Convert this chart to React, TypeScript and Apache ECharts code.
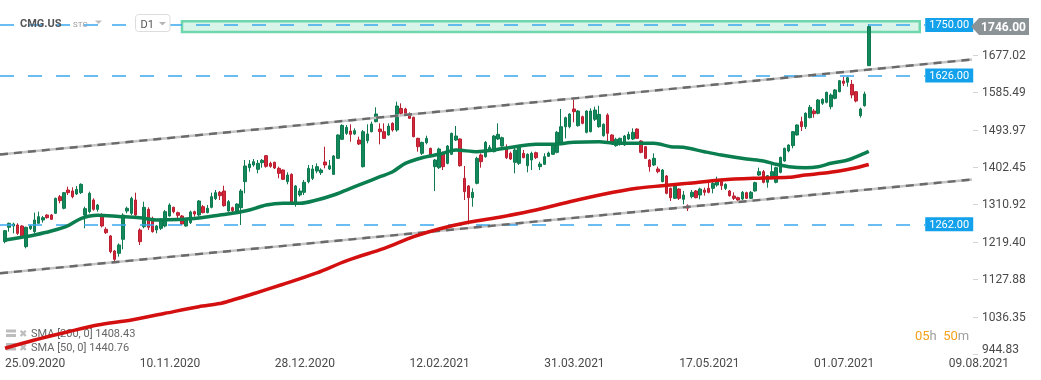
import React, { useEffect, useRef } from "react";
import * as echarts from "echarts";

// ---------- data ----------
const dateLabels = ["25.09.2020", "10.11.2020", "28.12.2020", "12.02.2021", "31.03.2021", "17.05.2021", "01.07.2021", "09.08.2021"];
const dateTickIdx = [0, 32, 64, 96, 128, 160, 192, 224];
const priceTicks = [944.83, 1036.35, 1127.88, 1219.4, 1310.92, 1402.45, 1493.97, 1585.49, 1677.02];
const xRange = [-1.19, 229.5];
const yRange = [944.83, 1811.0];

// [open, close, low, high] per trading day
const candles: number[][] = [
  [1219.7, 1246.6, 1215.6, 1248.3], [1254.8, 1264.6, 1244.2, 1266.2], [1258.0, 1262.9, 1240.1, 1266.2], [1260.5, 1240.1, 1236.0, 1264.6],
  [1258.0, 1230.3, 1227.9, 1260.5], [1207.5, 1254.8, 1203.4, 1256.4], [1251.5, 1258.0, 1248.3, 1260.5], [1244.2, 1272.7, 1240.1, 1290.7],
  [1264.6, 1280.9, 1262.9, 1293.1], [1272.7, 1278.4, 1266.2, 1282.5], [1284.9, 1278.4, 1276.0, 1286.6], [1284.9, 1274.4, 1272.7, 1287.4],
  [1289.0, 1325.7, 1287.4, 1327.4], [1329.8, 1320.0, 1313.5, 1333.9], [1301.3, 1339.6, 1298.8, 1341.2], [1346.1, 1339.6, 1333.9, 1354.3],
  [1343.7, 1329.8, 1325.7, 1352.7], [1336.3, 1347.8, 1333.9, 1355.9], [1339.6, 1360.0, 1336.3, 1362.4], [1284.9, 1300.5, 1252.3, 1305.3],
  [1293.1, 1338.0, 1289.0, 1342.1], [1321.7, 1298.8, 1295.6, 1325.7], [1298.8, 1309.4, 1293.1, 1311.9], [1285.0, 1258.0, 1254.8, 1289.0],
  [1249.9, 1241.7, 1238.5, 1254.8], [1233.6, 1195.2, 1191.2, 1236.0], [1196.9, 1176.5, 1170.8, 1199.3], [1191.2, 1211.6, 1183.0, 1215.6],
  [1225.4, 1284.9, 1201.0, 1289.0], [1294.7, 1301.3, 1289.0, 1305.3], [1289.0, 1325.7, 1284.9, 1329.8], [1321.7, 1284.9, 1280.9, 1339.6],
  [1248.3, 1219.7, 1211.6, 1252.3], [1256.4, 1303.7, 1252.3, 1317.6], [1298.8, 1254.8, 1248.3, 1303.7], [1276.8, 1244.2, 1241.7, 1280.9],
  [1248.3, 1258.0, 1240.1, 1260.5], [1252.3, 1272.7, 1248.3, 1276.8], [1258.0, 1293.1, 1254.8, 1297.2], [1282.5, 1309.4, 1280.9, 1313.5],
  [1303.7, 1293.1, 1289.0, 1305.3], [1290.7, 1284.1, 1276.8, 1293.1], [1282.5, 1262.9, 1260.5, 1284.9], [1258.0, 1274.4, 1256.4, 1276.8],
  [1266.2, 1292.3, 1262.9, 1295.6], [1293.1, 1287.4, 1280.9, 1295.6], [1284.9, 1319.2, 1280.9, 1321.7], [1305.3, 1290.7, 1289.0, 1309.4],
  [1290.7, 1301.3, 1289.0, 1309.4], [1303.7, 1329.8, 1301.3, 1339.6], [1324.9, 1339.6, 1321.7, 1346.1], [1340.4, 1332.2, 1321.6, 1343.6],
  [1343.6, 1307.8, 1305.3, 1356.7], [1294.7, 1317.5, 1293.1, 1321.6], [1302.9, 1295.5, 1291.4, 1305.3], [1294.7, 1311.8, 1293.1, 1313.5],
  [1302.9, 1343.6, 1260.4, 1348.5], [1366.5, 1404.8, 1337.9, 1419.5], [1400.7, 1409.7, 1390.9, 1419.5], [1407.3, 1415.4, 1403.2, 1421.9],
  [1396.7, 1411.3, 1386.9, 1419.5], [1413.0, 1418.7, 1400.7, 1421.9], [1430.1, 1404.0, 1400.7, 1431.7], [1411.3, 1404.0, 1400.7, 1415.4],
  [1413.8, 1399.9, 1397.5, 1415.4], [1399.1, 1386.9, 1374.6, 1403.2], [1395.0, 1372.2, 1370.6, 1396.6], [1366.5, 1382.8, 1360.0, 1389.3],
  [1384.4, 1313.5, 1311.0, 1386.9], [1313.5, 1355.9, 1305.3, 1358.3], [1333.9, 1343.6, 1329.8, 1350.2], [1340.4, 1364.8, 1333.9, 1370.6],
  [1366.5, 1399.1, 1362.4, 1407.3], [1374.6, 1397.5, 1370.6, 1407.3], [1392.6, 1403.2, 1386.9, 1411.3], [1388.5, 1395.0, 1382.8, 1399.1],
  [1414.6, 1407.3, 1399.1, 1452.1], [1397.5, 1405.6, 1395.0, 1419.5], [1384.4, 1429.3, 1382.8, 1431.7], [1423.6, 1480.7, 1421.9, 1482.3],
  [1470.1, 1504.3, 1468.4, 1506.8], [1484.7, 1499.4, 1480.7, 1505.1], [1490.4, 1482.3, 1464.3, 1506.8], [1483.1, 1491.3, 1480.7, 1497.0],
  [1468.4, 1458.6, 1456.2, 1476.6], [1403.2, 1488.8, 1401.0, 1492.9], [1466.8, 1483.1, 1460.3, 1506.8], [1488.8, 1507.6, 1487.2, 1513.3],
  [1513.3, 1532.0, 1511.7, 1548.4], [1495.3, 1488.8, 1457.8, 1509.2], [1488.8, 1472.5, 1470.9, 1509.2], [1480.7, 1502.7, 1479.0, 1509.2],
  [1509.2, 1492.9, 1488.8, 1511.7], [1492.9, 1551.6, 1488.8, 1562.2], [1545.9, 1533.7, 1529.6, 1558.1], [1544.3, 1533.7, 1531.2, 1547.5],
  [1531.2, 1521.4, 1519.8, 1536.1], [1523.9, 1476.6, 1475.0, 1525.5], [1472.5, 1452.1, 1439.9, 1474.1], [1435.8, 1462.7, 1431.7, 1464.3],
  [1461.9, 1472.5, 1457.8, 1479.0], [1448.0, 1431.7, 1427.6, 1449.7], [1403.2, 1419.5, 1343.6, 1421.9], [1400.7, 1446.4, 1397.5, 1449.7],
  [1435.8, 1403.2, 1395.0, 1439.9], [1411.3, 1453.7, 1408.9, 1456.2], [1433.4, 1484.7, 1431.7, 1486.4], [1468.4, 1478.2, 1466.0, 1502.7],
  [1470.9, 1405.6, 1403.2, 1472.5], [1374.6, 1342.0, 1321.6, 1404.8], [1355.9, 1327.3, 1262.1, 1358.3], [1327.3, 1340.4, 1305.3, 1350.2],
  [1362.4, 1423.6, 1360.0, 1427.6], [1431.7, 1415.4, 1400.7, 1435.8], [1427.6, 1462.7, 1425.2, 1466.0], [1444.0, 1450.5, 1439.9, 1456.2],
  [1439.9, 1478.2, 1438.2, 1480.7], [1470.9, 1482.3, 1468.4, 1509.2], [1453.7, 1474.1, 1452.1, 1476.6], [1446.4, 1425.2, 1421.9, 1457.8],
  [1435.8, 1421.9, 1419.5, 1439.9], [1413.8, 1444.0, 1386.9, 1452.1], [1411.3, 1451.3, 1407.3, 1456.2], [1435.8, 1425.2, 1423.6, 1444.0],
  [1405.6, 1433.4, 1389.3, 1435.8], [1419.5, 1435.8, 1395.0, 1439.9], [1437.4, 1425.2, 1421.9, 1439.9], [1403.2, 1409.7, 1395.0, 1415.4],
  [1408.9, 1427.6, 1407.3, 1435.8], [1428.5, 1436.6, 1426.8, 1439.9], [1433.4, 1456.2, 1431.7, 1460.3], [1438.2, 1487.2, 1435.8, 1490.4],
  [1460.3, 1501.0, 1456.2, 1544.3], [1501.0, 1523.1, 1472.5, 1525.5], [1501.0, 1532.0, 1497.0, 1533.7], [1544.3, 1537.8, 1511.7, 1572.8],
  [1503.5, 1539.4, 1501.0, 1541.8], [1525.5, 1509.2, 1506.8, 1528.0], [1487.2, 1539.4, 1484.7, 1541.0], [1488.8, 1539.4, 1487.2, 1545.9],
  [1519.0, 1541.8, 1514.9, 1550.0], [1501.0, 1531.2, 1498.6, 1552.4], [1479.0, 1506.8, 1476.6, 1509.2], [1529.6, 1484.7, 1464.3, 1533.7],
  [1480.7, 1464.3, 1462.7, 1482.3], [1454.6, 1470.1, 1452.1, 1474.1], [1462.7, 1472.5, 1454.6, 1474.1], [1456.2, 1478.2, 1453.7, 1480.7],
  [1470.9, 1482.3, 1468.4, 1488.8], [1470.9, 1487.2, 1468.4, 1497.0], [1495.3, 1472.5, 1470.9, 1497.0], [1466.0, 1438.2, 1435.8, 1467.6],
  [1452.1, 1423.6, 1421.9, 1453.7], [1419.5, 1403.2, 1390.9, 1421.9], [1407.3, 1423.6, 1404.8, 1435.8], [1397.5, 1391.0, 1386.9, 1403.2],
  [1366.5, 1395.0, 1364.9, 1397.5], [1380.4, 1338.0, 1335.5, 1382.8], [1350.2, 1327.3, 1319.2, 1351.8], [1325.7, 1356.7, 1324.1, 1358.3],
  [1348.5, 1325.7, 1321.6, 1350.2], [1323.3, 1333.9, 1311.0, 1343.7], [1307.8, 1301.3, 1294.7, 1311.0], [1329.8, 1340.4, 1325.7, 1346.1],
  [1343.7, 1327.3, 1325.7, 1346.1], [1333.9, 1348.5, 1323.3, 1351.8], [1346.1, 1340.4, 1332.2, 1351.8], [1350.2, 1340.4, 1338.0, 1370.6],
  [1350.2, 1362.4, 1338.0, 1366.5], [1358.3, 1366.5, 1354.3, 1378.7], [1366.5, 1356.7, 1346.1, 1374.7], [1350.2, 1360.0, 1346.1, 1362.4],
  [1343.7, 1332.2, 1329.8, 1346.1], [1331.4, 1325.7, 1321.6, 1340.4], [1327.3, 1321.6, 1317.6, 1329.8], [1324.1, 1340.4, 1321.6, 1343.7],
  [1339.6, 1325.7, 1324.1, 1342.0], [1325.7, 1340.4, 1324.1, 1343.7], [1343.7, 1364.1, 1342.0, 1366.5], [1382.8, 1391.0, 1380.4, 1400.8],
  [1391.0, 1364.9, 1362.4, 1395.0], [1364.9, 1381.2, 1351.8, 1382.8], [1374.7, 1391.0, 1372.2, 1411.4], [1364.9, 1400.8, 1362.4, 1403.2],
  [1389.3, 1426.0, 1386.9, 1427.7], [1417.1, 1448.1, 1415.4, 1449.7], [1441.5, 1456.2, 1438.3, 1457.8], [1454.6, 1488.8, 1448.1, 1490.5],
  [1480.7, 1505.2, 1479.1, 1506.8], [1513.3, 1501.1, 1490.5, 1525.5], [1501.1, 1533.7, 1495.4, 1536.2], [1523.1, 1548.4, 1521.5, 1554.1],
  [1539.4, 1532.9, 1523.1, 1544.3], [1533.7, 1566.3, 1531.3, 1568.8], [1558.2, 1568.0, 1554.1, 1570.4], [1560.6, 1585.1, 1558.2, 1586.7],
  [1550.0, 1578.6, 1543.5, 1582.6], [1570.4, 1590.8, 1568.0, 1593.2], [1586.7, 1613.6, 1585.1, 1615.3], [1612.8, 1607.1, 1600.6, 1623.4],
  [1609.6, 1621.0, 1599.0, 1623.4], [1604.7, 1578.6, 1570.4, 1615.3], [1586.7, 1563.9, 1560.6, 1588.3], [1528.0, 1544.3, 1523.1, 1547.6],
  [1552.5, 1581.0, 1550.0, 1586.7], [1650.3, 1746.0, 1650.3, 1751.5],
];

// SMA readings [bar index, value]
const sma50: number[][] = [
  [0, 1223.8], [4, 1230.4], [7, 1236.0], [11, 1245.8], [15, 1259.2], [18, 1276.3], [22, 1284.2], [27, 1281.3],
  [32, 1278.1], [36, 1272.7], [41, 1273.9], [46, 1277.6], [51, 1284.9], [54, 1289.1], [58, 1297.2], [62, 1309.4],
  [66, 1313.6], [70, 1313.6], [74, 1321.6], [78, 1333.9], [81, 1346.1], [85, 1362.5], [89, 1378.6], [92, 1390.8],
  [95, 1411.4], [99, 1425.1], [103, 1433.4], [107, 1443.9], [112, 1439.8], [116, 1443.9], [121, 1452.0], [126, 1457.9],
  [130, 1457.9], [135, 1462.8], [141, 1464.3], [145, 1460.3], [150, 1460.3], [154, 1460.3], [158, 1452.0], [161, 1450.6],
  [166, 1439.8], [170, 1431.7], [176, 1421.9], [180, 1417.0], [183, 1409.0], [186, 1403.1], [190, 1400.6], [193, 1403.1],
  [196, 1411.4], [200, 1419.5], [203, 1431.7], [205, 1440.76],
];
const sma200: number[][] = [
  [0, 958.8], [7, 979.1], [15, 999.4], [22, 1015.8], [30, 1028.0], [38, 1044.4], [46, 1060.6], [51, 1068.2],
  [54, 1076.9], [58, 1089.2], [66, 1115.4], [74, 1143.3], [81, 1172.8], [90, 1203.5], [97, 1231.9], [103, 1250.7],
  [110, 1267.1], [118, 1280.8], [126, 1297.2], [134, 1317.5], [142, 1335.6], [150, 1350.3], [156, 1356.6], [162, 1362.5],
  [170, 1370.6], [178, 1374.7], [186, 1377.2], [190, 1382.8], [194, 1387.0], [198, 1392.6], [202, 1400.6], [205, 1408.43],
];

const channelUpper = [[-1.19, 1432.9], [229.5, 1665.4]];
const channelLower = [[-1.19, 1142.5], [229.5, 1371.8]];
const levelValues = [1750, 1626, 1262];
const levelLineEnd = 218.4;
const zoneX = [42.0, 217.1];
const zoneY = [1759.1, 1732.7];

const FONT = "Roboto, 'Noto Sans', sans-serif";
const UP = "#13885a";
const DOWN = "#d6263a";
const BLUE = "#3aa8ee";
const BLUE_BOX = "#12a1ea";

export default function App() {
  const ref = useRef<HTMLDivElement>(null);
  useEffect(() => {
    const chart = echarts.init(ref.current!, null, { renderer: "svg" });
    const candleData = candles.map((c, i) => [i, c[0], c[1], c[2], c[3]]);

    const channelSeries = (data: number[][]) => [
      {
        type: "line", data, symbol: "none", silent: true, z: 4,
        lineStyle: { color: "#c4c4c4", width: 2.4 },
      },
      {
        type: "line", data, symbol: "none", silent: true, z: 5,
        lineStyle: { color: "#6a6a6a", width: 2.4, type: [8, 6] },
      },
    ];

    const option: any = {
      animation: false,
      textStyle: { fontFamily: FONT },
      grid: { left: 0, right: 69, top: 0, bottom: 26, containLabel: false, outerBoundsMode: "none" },
      xAxis: {
        type: "value",
        min: xRange[0],
        max: xRange[1],
        axisLine: { show: false },
        splitLine: { show: false },
        axisTick: { show: false },
        axisLabel: {
          customValues: dateTickIdx,
          formatter: (v: number) => dateLabels[dateTickIdx.indexOf(Math.round(v))] ?? "",
          align: "left",
          margin: 3,
          color: "#4a4a4a",
          fontSize: 12,
          fontFamily: FONT,
        },
      },
      yAxis: {
        type: "value",
        position: "right",
        min: yRange[0],
        max: yRange[1],
        axisLine: { show: false },
        splitLine: { show: false },
        axisTick: { show: false },
        axisLabel: {
          customValues: priceTicks,
          formatter: (v: number) => (v === priceTicks[0] ? `{low|${v.toFixed(2)}}` : v.toFixed(2)),
          rich: { low: { padding: [0, 0, 10, 0], fontSize: 12, color: "#4a4a4a", fontFamily: FONT } },
          margin: 10,
          color: "#4a4a4a",
          fontSize: 12,
          fontFamily: FONT,
        },
      },
      series: [
        {
          type: "line",
          data: [[xRange[0], levelValues[2]]],
          symbol: "none",
          silent: true,
          z: 1,
          markArea: {
            silent: true,
            itemStyle: { color: "rgba(120,215,175,0.28)", borderColor: "#6fd7ae", borderWidth: 2.5 },
            data: [[{ coord: [zoneX[0], zoneY[0]] }, { coord: [zoneX[1], zoneY[1]] }]],
          },
          markLine: {
            silent: true,
            symbol: ["none", "none"],
            lineStyle: { color: BLUE, width: 1.5, type: [14, 14] },
            label: {
              position: "end",
              distance: 0,
              formatter: (p: any) => Number(p.value).toFixed(2),
              backgroundColor: BLUE_BOX,
              color: "#ffffff",
              fontSize: 11,
              lineHeight: 12,
              padding: [1, 4, 1, 4],
              fontFamily: FONT,
            },
            data: levelValues.map((v) => [
              { coord: [xRange[0], v], value: v },
              { coord: [levelLineEnd, v], value: v },
            ]),
          },
        },
        {
          type: "candlestick",
          data: candleData,
          barWidth: 3,
          z: 3,
          itemStyle: {
            color: UP,
            color0: DOWN,
            borderColor: "#0f7a4f",
            borderColor0: "#b81f31",
            borderWidth: 1,
          },
        },
        ...channelSeries(channelLower),
        ...channelSeries(channelUpper),
        {
          type: "line", data: sma200, symbol: "none", smooth: 0.3, silent: true, z: 6,
          lineStyle: { color: "#d40f0f", width: 3.5 },
        },
        {
          type: "line", data: sma50, symbol: "none", smooth: 0.3, silent: true, z: 6,
          lineStyle: { color: "#0b7e4f", width: 3.5 },
        },
      ],
    };
    chart.setOption(option);

    const lastClose = candles[candles.length - 1][1];
    const py = chart.convertToPixel({ yAxisIndex: 0 }, lastClose) as number;
    const last200 = sma200[sma200.length - 1][1];
    const last50 = sma50[sma50.length - 1][1];
    const tickMarks = priceTicks.map((t) => {
      const ty = Math.round(chart.convertToPixel({ yAxisIndex: 0 }, t) as number) + 0.5;
      return {
        type: "line", z: 10, silent: true,
        shape: { x1: 973, y1: ty, x2: 978, y2: ty },
        style: { stroke: "#d4d4d4", lineWidth: 1 },
      };
    });

    const legendRow = (y: number, label: string) => [
      { type: "rect", shape: { x: 6, y: y - 4, width: 10, height: 3 }, style: { fill: "#bdbdbd" } },
      { type: "rect", shape: { x: 6, y: y + 0.5, width: 10, height: 3 }, style: { fill: "#bdbdbd" } },
      { type: "text", x: 19, y, style: { text: "✖", fill: "#bdbdbd", font: `10px ${FONT}`, verticalAlign: "middle" } },
      { type: "text", x: 31, y, style: { text: label, fill: "#666666", font: `11px ${FONT}`, verticalAlign: "middle" } },
    ];

    chart.setOption({
      graphic: [
        ...tickMarks,
        // header
        { type: "text", x: 20, y: 23.5, z: 10, style: { text: "CMG.US", fill: "#555555", font: `bold 11px ${FONT}`, verticalAlign: "middle" } },
        { type: "text", x: 73, y: 24.5, z: 10, style: { text: "STC", fill: "#9a9a9a", font: `8px ${FONT}`, verticalAlign: "middle" } },
        { type: "polygon", z: 10, shape: { points: [[95, 20.5], [102, 20.5], [98.5, 24]] }, style: { fill: "#bdbdbd" } },
        { type: "rect", z: 10, shape: { x: 135.5, y: 14.5, width: 34.5, height: 17, r: 3 }, style: { fill: "#ffffff", stroke: "#dddddd", lineWidth: 1 } },
        { type: "text", x: 140.5, y: 24, z: 11, style: { text: "D1", fill: "#555555", font: `11px ${FONT}`, verticalAlign: "middle" } },
        { type: "polygon", z: 11, shape: { points: [[159, 22], [166, 22], [162.5, 25.5]] }, style: { fill: "#b5b5b5" } },
        // price tag
        {
          type: "polygon", z: 10,
          shape: { points: [[971, py], [979, py - 8.5], [1029, py - 8.5], [1029, py + 8.5], [979, py + 8.5]] },
          style: { fill: "#8c9397" },
        },
        {
          type: "text", x: 1003.5, y: py, z: 11,
          style: { text: lastClose.toFixed(2), fill: "#ffffff", font: `bold 12px ${FONT}`, align: "center", verticalAlign: "middle" },
        },
        // legend
        ...legendRow(333.5, `SMA [200, 0] ${last200.toFixed(2)}`),
        ...legendRow(347, `SMA [50, 0] ${last50.toFixed(2)}`),
        // countdown
        {
          type: "text", x: 915, y: 335, z: 10,
          style: {
            text: "{o|05}{g|h}  {o|50}{g|m}",
            verticalAlign: "middle",
            font: `13px ${FONT}`,
            rich: {
              o: { fill: "#f5a11c", fontSize: 13, fontFamily: FONT },
              g: { fill: "#a0a0a0", fontSize: 13, fontFamily: FONT },
            },
          },
        },
      ],
    });

    return () => chart.dispose();
  }, []);
  return <div ref={ref} style={{ position: "fixed", left: 0, top: 0, width: 1041, height: 380 }} />;
}
